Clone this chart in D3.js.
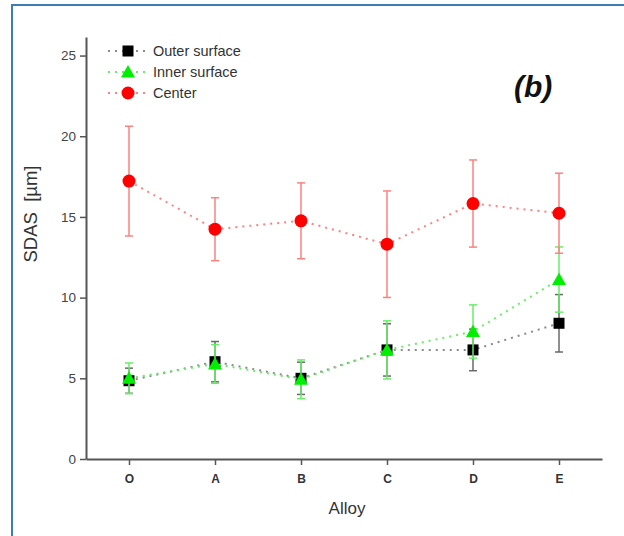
<!DOCTYPE html>
<html><head><meta charset="utf-8">
<script src="https://cdn.jsdelivr.net/npm/d3@7"></script>
<style>body{margin:0;background:#fff;} svg{display:block;font-family:"Liberation Sans",Arial,sans-serif;}</style>
</head><body>
<svg id="c" width="624" height="536"></svg>
<script>
const categories = ["O","A","B","C","D","E"];
const outerValues = [4.85, 6.03, 5.0, 6.76, 6.76, 8.41];
const outerErrors = [0.78, 1.25, 1.0, 1.62, 1.29, 1.78];
const innerValues = [5.0, 5.89, 4.94, 6.76, 7.9, 11.12];
const innerErrors = [0.95, 1.2, 1.2, 1.8, 1.65, 2.02];
const centerValues = [17.22, 14.24, 14.76, 13.31, 15.83, 15.23];
const centerErrors = [3.4, 1.95, 2.35, 3.3, 2.7, 2.48];
const yTicks = [0, 5, 10, 15, 20, 25];
const seriesNames = ["Outer surface", "Inner surface", "Center"];

const series = [
  {name: seriesNames[0], values: outerValues, errors: outerErrors, color: "#000000", line: "#8a8a8a", err: "#6a6a6a", shape: "square"},
  {name: seriesNames[1], values: innerValues, errors: innerErrors, color: "#00ee00", line: "#66ee66", err: "#66ee66", shape: "triangle"},
  {name: seriesNames[2], values: centerValues, errors: centerErrors, color: "#ff0000", line: "#ff8080", err: "#ff8080", shape: "circle"}
];

const svg = d3.select("#c");
// frame
svg.append("path").attr("d", "M12,536 L12,5 L624,5").attr("fill","none").attr("stroke","#3f7cb6").attr("stroke-width",2);

const x = d3.scalePoint().domain(categories).range([86, 602]).padding(0.5);
const y = d3.scaleLinear().domain([0, 26.15]).range([459, 37]);

const axisColor = "#555";
// y axis
const ya = svg.append("g").attr("transform","translate(86,0)")
  .call(d3.axisLeft(y).tickValues(yTicks).tickSize(6).tickPadding(4).tickSizeOuter(0));
ya.select(".domain").attr("stroke", axisColor).attr("stroke-width", 2);
ya.selectAll(".tick line").attr("stroke", axisColor).attr("stroke-width", 1.5);
ya.selectAll(".tick text").attr("fill","#444").attr("font-size", 13.5).attr("font-family","Liberation Sans, Arial");

// x axis
const xa = svg.append("g").attr("transform","translate(0,459)")
  .call(d3.axisBottom(x).tickSize(6).tickPadding(9).tickSizeOuter(0));
xa.select(".domain").attr("stroke", axisColor).attr("stroke-width", 2);
xa.selectAll(".tick line").attr("stroke", axisColor).attr("stroke-width", 1.5);
xa.selectAll(".tick text").attr("fill","#333").attr("font-size", 12).attr("font-weight","bold").attr("font-family","Liberation Sans, Arial");

// axis titles
svg.append("text").attr("x", 347).attr("y", 514).attr("text-anchor","middle")
  .attr("font-size", 17).attr("fill","#333").text("Alloy");
svg.append("text").attr("transform","translate(37,214) rotate(-90)").attr("text-anchor","middle")
  .attr("font-size", 18.5).attr("fill","#333").text("SDAS\u00a0\u00a0[µm]");

// panel label
svg.append("text").attr("x", 514).attr("y", 97).attr("font-size", 30).attr("font-weight","bold")
  .attr("font-style","italic").attr("fill","#111").text("(b)");

function drawMarker(g, shape, cx, cy, color) {
  if (shape === "square") {
    g.append("rect").attr("x", cx-5.5).attr("y", cy-5.5).attr("width", 11).attr("height", 11).attr("fill", color);
  } else if (shape === "triangle") {
    g.append("path").attr("d", `M${cx},${cy-7} L${cx+7},${cy+5.5} L${cx-7},${cy+5.5} Z`).attr("fill", color);
  } else {
    g.append("circle").attr("cx", cx).attr("cy", cy).attr("r", 6.5).attr("fill", color);
  }
}

const line = d3.line().x((d,i)=>x(categories[i])).y(d=>y(d));
series.forEach(s => {
  const g = svg.append("g");
  g.append("path").attr("d", line(s.values)).attr("fill","none").attr("stroke", s.line)
    .attr("stroke-width", 2).attr("stroke-dasharray","2,5");
  s.values.forEach((v,i) => {
    const cx = x(categories[i]);
    const top = y(v + s.errors[i]), bot = y(v - s.errors[i]);
    g.append("line").attr("x1",cx).attr("x2",cx).attr("y1",top).attr("y2",bot).attr("stroke", s.err).attr("stroke-width",1.5);
    g.append("line").attr("x1",cx-4).attr("x2",cx+4).attr("y1",top).attr("y2",top).attr("stroke", s.err).attr("stroke-width",1.5);
    g.append("line").attr("x1",cx-4).attr("x2",cx+4).attr("y1",bot).attr("y2",bot).attr("stroke", s.err).attr("stroke-width",1.5);
  });
  s.values.forEach((v,i) => drawMarker(g, s.shape, x(categories[i]), y(v), s.color));
});

// legend
const legendY = [51, 72, 93];
series.forEach((s,i) => {
  const g = svg.append("g");
  g.append("line").attr("x1",108).attr("x2",150).attr("y1",legendY[i]).attr("y2",legendY[i])
    .attr("stroke", s.line).attr("stroke-width",2).attr("stroke-dasharray","2,5");
  drawMarker(g, s.shape, 128, legendY[i], s.color);
  g.append("text").attr("x",153).attr("y",legendY[i]+5).attr("font-size",14.5).attr("fill","#333").text(s.name);
});
</script>
</body></html>
